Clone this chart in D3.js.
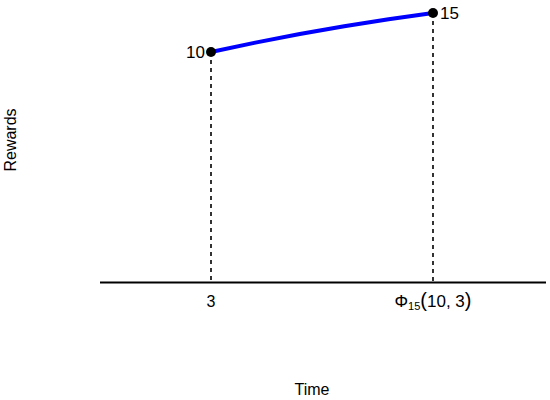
<!DOCTYPE html>
<html>
<head>
<meta charset="utf-8">
<style>
  body { margin: 0; background: #fff; }
  text { font-family: "Liberation Sans", Arial, sans-serif; fill: #000; }
</style>
</head>
<body>
<div id="chart"></div>
<script src="https://d3js.org/d3.v7.min.js"></script>
<script>
// reward curve: time vs reward (phi placed at t=8)
var times = [3, 4, 5, 6, 7, 8]
var rewards = [10, 11.2, 12.3, 13.3, 14.2, 15]
var endpoints = [{t: 3, r: 10, label: "10", side: "left"}, {t: 8, r: 15, label: "15", side: "right"}]
var tickTimes = [3, 8]

var width = 550, height = 400

var svg = d3.select("#chart").append("svg")
  .attr("width", width)
  .attr("height", height)

var x = d3.scaleLinear().domain([3, 8]).range([211, 433])
var y = d3.scaleLinear().domain([10, 15]).range([52, 13])
var axisY = 282.5

// dashed drop lines
svg.selectAll(".drop")
  .data(endpoints)
  .enter().append("line")
  .attr("x1", d => x(d.t)).attr("x2", d => x(d.t))
  .attr("y1", d => y(d.r)).attr("y2", axisY)
  .style("stroke", "black")
  .style("stroke-width", 1.6)
  .style("stroke-dasharray", "4,4")

// x axis line
svg.append("line")
  .attr("x1", 100).attr("x2", 546)
  .attr("y1", axisY).attr("y2", axisY)
  .style("stroke", "black")
  .style("stroke-width", 2)

// curve
var line = d3.line()
  .x((d, i) => x(times[i]))
  .y(d => y(d))
  .curve(d3.curveMonotoneX)

svg.append("path")
  .datum(rewards)
  .attr("d", line)
  .style("fill", "none")
  .style("stroke", "#0000ff")
  .style("stroke-width", 4)

// dots
svg.selectAll(".dot")
  .data(endpoints)
  .enter().append("circle")
  .attr("cx", d => x(d.t))
  .attr("cy", d => y(d.r))
  .attr("r", 5)
  .style("fill", "black")

svg.selectAll(".ptlabel")
  .data(endpoints)
  .enter().append("text")
  .attr("x", d => x(d.t) + (d.side == "left" ? -6 : 7))
  .attr("y", d => y(d.r) + 6)
  .attr("text-anchor", d => d.side == "left" ? "end" : "start")
  .style("font-size", "17px")
  .text(d => d.label)

// tick labels
svg.append("text")
  .attr("x", x(tickTimes[0]))
  .attr("y", 307)
  .attr("text-anchor", "middle")
  .style("font-size", "16px")
  .text("3")

var phi = svg.append("text")
  .attr("x", x(tickTimes[1]))
  .attr("y", 307)
  .attr("text-anchor", "middle")
  .style("font-size", "17px")
phi.append("tspan").text("Φ")
phi.append("tspan").attr("dy", 3).style("font-size", "11px").text("15")
phi.append("tspan").attr("dy", -3).style("font-size", "20px").text("(")
phi.append("tspan").text("10, 3")
phi.append("tspan").style("font-size", "20px").text(")")

// axis titles
svg.append("text")
  .attr("x", 312)
  .attr("y", 395)
  .attr("text-anchor", "middle")
  .style("font-size", "16px")
  .text("Time")

svg.append("text")
  .attr("transform", "translate(16,140) rotate(-90)")
  .attr("text-anchor", "middle")
  .style("font-size", "16px")
  .text("Rewards")
</script>
</body>
</html>
